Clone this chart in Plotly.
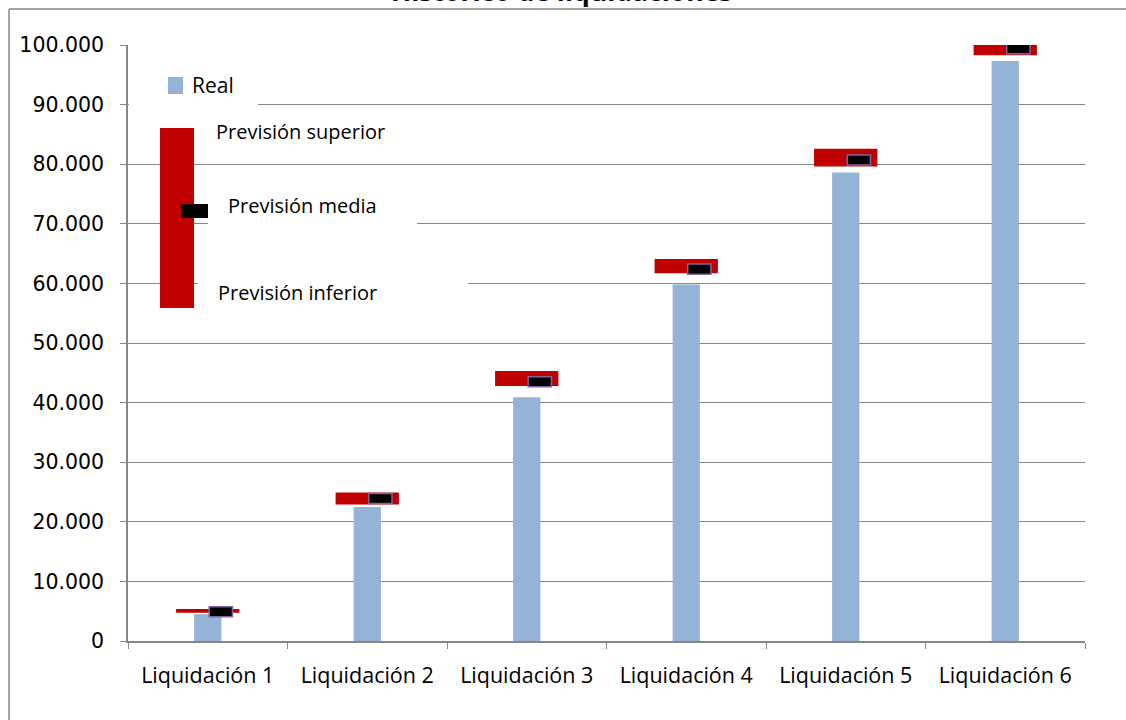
import plotly.graph_objects as go

# ---- data ----
categories = ["Liquidación 1", "Liquidación 2", "Liquidación 3",
              "Liquidación 4", "Liquidación 5", "Liquidación 6"]
real = [4500, 22500, 40900, 59800, 78600, 97300]
prevision_inferior = [4750, 22900, 42800, 61700, 79600, 98300]
prevision_superior = [5370, 24900, 45300, 64100, 82600, 100200]
prevision_media = [4900, 23900, 43500, 62400, 80700, 99400]
y_ticks = [0, 10000, 20000, 30000, 40000, 50000, 60000, 70000, 80000, 90000, 100000]

# ---- styles ----
BLUE = "#95b3d7"
RED = "#c00000"
GRID = "#868686"
PURPLE = "#8064a2"
MEDIA_H = 1700  # marker height in axis units

fig = go.Figure()

fig.add_trace(go.Bar(
    x=categories, y=real, width=0.171,
    marker=dict(color=BLUE, line=dict(width=0)),
    name="Real", showlegend=False,
))
fig.add_trace(go.Bar(
    x=categories,
    y=[s - i for s, i in zip(prevision_superior, prevision_inferior)],
    base=prevision_inferior, width=0.397,
    marker=dict(color=RED, line=dict(width=0)),
    name="Previsión", showlegend=False, cliponaxis=False,
))
fig.add_trace(go.Bar(
    x=categories, y=[MEDIA_H] * len(prevision_media),
    base=[m - MEDIA_H / 2 for m in prevision_media],
    width=0.146, offset=0.009,
    marker=dict(color="#000000", line=dict(color=PURPLE, width=1.5)),
    name="Previsión media", showlegend=False, cliponaxis=False,
))

# legend-like drawing (paper coordinates)
shapes = [
    # outer chart border (left and top)
    dict(type="line", xref="paper", yref="paper", x0=-0.1243, x1=-0.1243, y0=1.0604, y1=-0.3,
         line=dict(color=GRID, width=1.5)),
    dict(type="line", xref="paper", yref="paper", x0=-0.1243, x1=1.2, y0=1.0604, y1=1.0604,
         line=dict(color=GRID, width=1.5)),
    # white label backgrounds
    dict(type="rect", xref="paper", yref="paper", x0=0.001, x1=0.1358, y0=0.8876, y1=0.9832,
         fillcolor="white", line=dict(width=0), layer="above"),
    dict(type="rect", xref="paper", yref="paper", x0=0.0836, x1=0.3020, y0=0.6812, y1=0.7567,
         fillcolor="white", line=dict(width=0), layer="above"),
    dict(type="rect", xref="paper", yref="paper", x0=0.0731, x1=0.3553, y0=0.5554, y1=0.6258,
         fillcolor="white", line=dict(width=0), layer="above"),
    # legend symbols
    dict(type="rect", xref="paper", yref="paper", x0=0.0418, x1=0.0575, y0=0.9178, y1=0.9463,
         fillcolor=BLUE, line=dict(width=0), layer="above"),
    dict(type="rect", xref="paper", yref="paper", x0=0.0334, x1=0.0690, y0=0.5587, y1=0.8607,
         fillcolor=RED, line=dict(width=0), layer="above"),
    dict(type="rect", xref="paper", yref="paper", x0=0.0554, x1=0.0836, y0=0.7097, y1=0.7332,
         fillcolor="#000000", line=dict(width=0), layer="above"),
]

lab_font = dict(family="Open Sans", size=20, color="#000000")
annotations = [
    dict(text="Real", xref="paper", yref="paper", x=0.0648, y=0.9329, xanchor="left", yanchor="middle",
         showarrow=False, font=dict(family="Open Sans", size=21, color="#000000")),
    dict(text="Previsión superior", xref="paper", yref="paper", x=0.0900, y=0.8549, xanchor="left",
         yanchor="middle", showarrow=False, font=lab_font),
    dict(text="Previsión media", xref="paper", yref="paper", x=0.1025, y=0.7307, xanchor="left",
         yanchor="middle", showarrow=False, font=lab_font),
    dict(text="Previsión inferior", xref="paper", yref="paper", x=0.0915, y=0.5847, xanchor="left",
         yanchor="middle", showarrow=False, font=lab_font),
    # title (cut off at the top edge, as in the original)
    dict(text="<b>Histórico de liquidaciones</b>", xref="paper", yref="paper", x=0.4535, y=1.0577,
         xanchor="center", yanchor="bottom", showarrow=False,
         font=dict(family="Open Sans", size=26.5, color="#000000")),
]

fig.update_layout(
    width=1126, height=720,
    margin=dict(l=128, r=41, t=45, b=79),
    paper_bgcolor="white", plot_bgcolor="white",
    barmode="overlay",
    separators=",.",
    showlegend=False,
    shapes=shapes,
    annotations=annotations,
    xaxis=dict(
        type="category", tickson="boundaries", ticks="outside", ticklen=6, tickcolor=GRID,
        showline=True, linecolor=GRID, linewidth=1.5, showgrid=False,
        tickfont=dict(family="Open Sans", size=21.5, color="#000000"),
        ticklabelstandoff=14, range=[-0.5, 5.5],
    ),
    yaxis=dict(
        range=[0, 100000], tickvals=y_ticks, tickformat=",d",
        ticks="outside", ticklen=6, tickcolor=GRID,
        showline=True, linecolor=GRID, linewidth=1.5,
        showgrid=True, gridcolor=GRID, gridwidth=1, zeroline=False,
        tickfont=dict(family="DejaVu Sans", size=20.5, color="#000000"),
        ticklabelstandoff=12,
    ),
)

fig.write_html(
    "out.html",
    config={"displayModeBar": False},
    post_script="document.body.style.margin='0';document.body.style.overflow='hidden';",
)
